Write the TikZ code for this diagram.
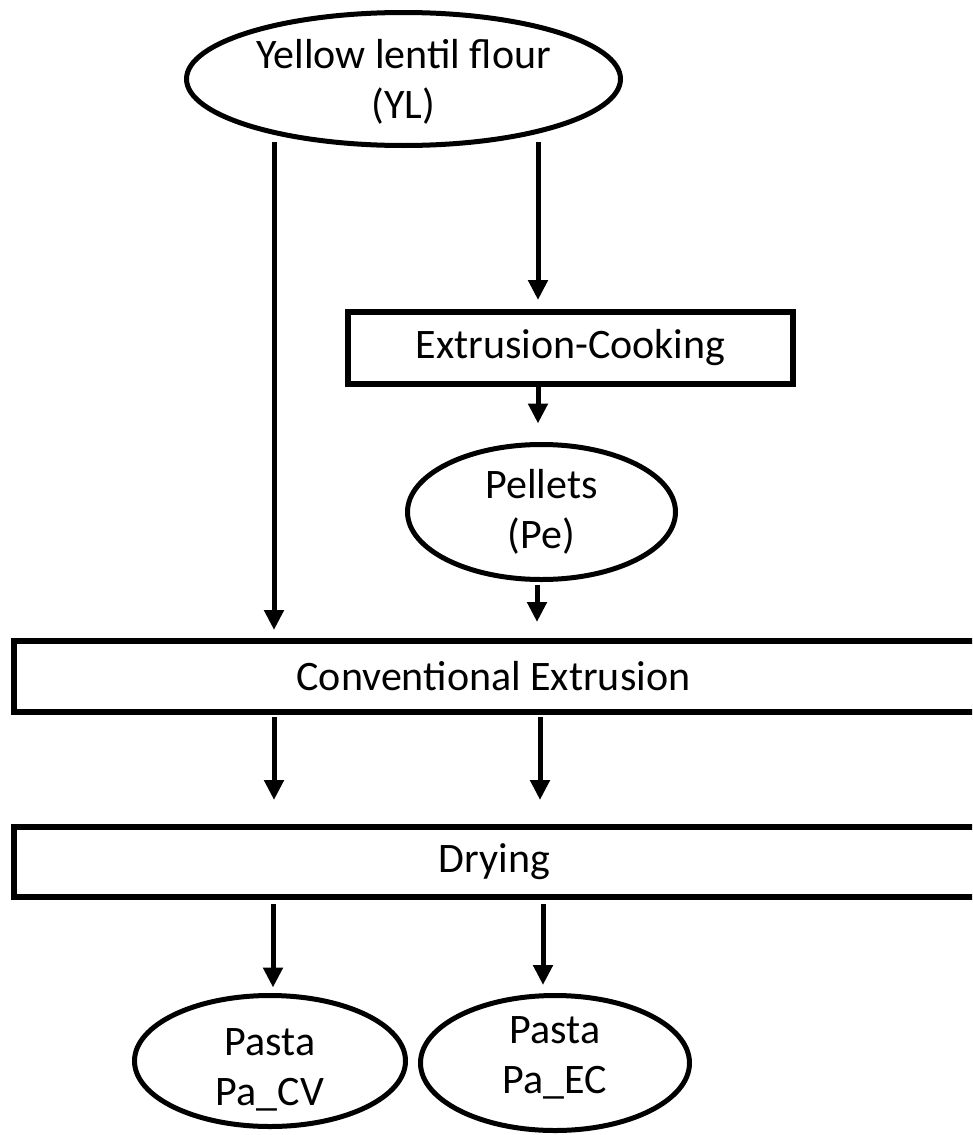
\documentclass[tikz,border=0pt]{standalone}
\usepackage{fontspec}
\setmainfont{Carlito}
\usetikzlibrary{arrows.meta,shapes.geometric,backgrounds}
\newcommand\twoline[3]{\raisebox{#1}[0pt][0pt]{\begin{tabular}[t]{@{}c@{}}#2\\#3\end{tabular}}}
\begin{document}
\begin{tikzpicture}[x=1pt,y=-1pt,
  txt/.style={align=center,font=\fontsize{42}{50}\selectfont},
  oval/.style={ellipse,draw,line width=5pt,fill=white,inner sep=0pt,outer sep=0pt,txt},
  procbox/.style={rectangle,draw,line width=6pt,fill=white,inner sep=0pt,outer sep=0pt,txt},
  arr/.style={line width=5pt,-{Triangle[width=19pt,length=20pt]}}]
\useasboundingbox (0,0) rectangle (972,1135);
\clip (0,0) rectangle (972,1135);
% nodes
\node[oval,minimum width=434pt,minimum height=133pt] (yl) at (403.5,79) {\twoline{11pt}{Yellow lentil flour}{(YL)}};
\node[procbox,minimum width=445pt,minimum height=72pt] (ext) at (570.5,348) {Extrusion-Cooking};
\node[oval,minimum width=268pt,minimum height=135pt] (pe) at (541.5,512) {\twoline{14pt}{Pellets}{(Pe)}};
\node[procbox,minimum width=971pt,minimum height=71pt] (conv) at (499.5,676.5) {Conventional Extrusion\hspace*{12pt}};
\node[procbox,minimum width=971pt,minimum height=70pt] (dry) at (499.5,862) {Drying\hspace*{10pt}};
\node[oval,minimum width=271pt,minimum height=131pt] (pacv) at (270,1061) {\twoline{6pt}{Pasta}{Pa\_CV}};
\node[oval,minimum width=269pt,minimum height=135pt] (paec) at (555,1063) {\twoline{20pt}{Pasta}{Pa\_EC}};
% columns
\coordinate (cA) at (274,0);
\coordinate (cB) at (538,0);
\coordinate (cC) at (537,0);
\coordinate (cD) at (540,0);
\coordinate (cE) at (273,0);
\coordinate (cF) at (543,0);
\begin{scope}[on background layer]
\fill[white] (0,0) rectangle (972,1135);
\draw[arr,shorten <=-3.5pt,shorten >=11pt] (cA |- yl.south) -- (cA |- conv.north);
\draw[arr,shorten <=-3.5pt,shorten >=12pt] (cB |- yl.south) -- (cB |- ext.north);
\draw[arr,shorten >=21pt] (cB |- ext.south) -- (cB |- pe.north);
\draw[arr,shorten <=5pt,shorten >=19pt] (cC |- pe.south) -- (cC |- conv.north);
\draw[arr,shorten <=5pt,shorten >=27pt] (cA |- conv.south) -- (cA |- dry.north);
\draw[arr,shorten <=5pt,shorten >=27pt] (cD |- conv.south) -- (cD |- dry.north);
\draw[arr,shorten <=7pt,shorten >=8pt] (cE |- dry.south) -- (cE |- pacv.north);
\draw[arr,shorten <=7pt,shorten >=10.5pt] (cF |- dry.south) -- (cF |- paec.north);
\end{scope}
\end{tikzpicture}
\end{document}
